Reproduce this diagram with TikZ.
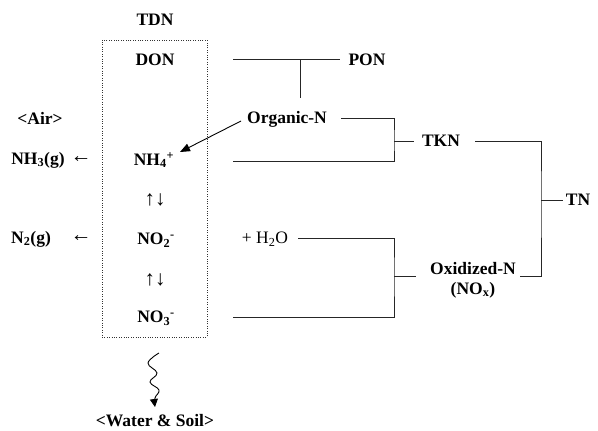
\documentclass[tikz,border=0pt]{standalone}
\usepackage{fontspec}
\setmainfont{Liberation Serif}
\usetikzlibrary{arrows.meta}
\begin{document}
\begin{tikzpicture}[x=1pt,y=-1pt,
  lbl/.style={font=\fontsize{17.5}{20}\selectfont\bfseries, inner sep=2pt},
  rlbl/.style={font=\fontsize{17.5}{20}\selectfont, inner sep=2pt},
  arr/.style={font=\fontsize{21}{22}\selectfont, inner sep=1pt},
  conn/.style={line width=0.7pt, draw=black!85},
  tdnbox/.style={draw=black!80, line width=0.7pt, dash pattern=on 1pt off 1.4pt, inner sep=0pt, minimum width=105pt, minimum height=297pt}]
\useasboundingbox (0,0) rectangle (598,431);
% box
\node[tdnbox] (box) at (154.5,188.5) {};
% labels
\node[lbl] (tdn) at (155,20) {TDN};
\node[lbl] (don) at (155,60) {DON};
\node[lbl] (pon) at (367,60) {PON};
\node[lbl] (org) at (287,119) {Organic-N};
\node[lbl] (air) at (40,118) {<Air>};
\node[lbl] (nh3) at (38,160) {NH\textsubscript{3}(g)};
\node[arr] (a1) at (81,160) {←};
\node[lbl] (nh4) at (154,160) {NH\textsubscript{4}\textsuperscript{+}};
\node[arr] (ud1) at (155,200) {↑↓};
\node[lbl] (n2) at (31,239) {N\textsubscript{2}(g)};
\node[arr] (a2) at (81,239) {←};
\node[lbl] (no2) at (156,240) {NO\textsubscript{2}\textsuperscript{-}};
\node[rlbl] (h2o) at (265,239) {+ H\textsubscript{2}O};
\node[arr] (ud2) at (155,280) {↑↓};
\node[lbl] (no3) at (156,318) {NO\textsubscript{3}\textsuperscript{-}};
\node[lbl] (ws) at (155,421) {<Water \& Soil>};
\node[lbl] (tkn) at (441,141) {TKN};
\node[lbl, align=center] (oxn) at (473,280) {Oxidized-N\\(NO\textsubscript{x})};
\node[lbl] (tn) at (578,200) {TN};
% coordinates
\coordinate (donR) at (233,59);
\coordinate (ponL) at (340,59);
\coordinate (ponJ) at (300,59);
\coordinate (orgT) at (300,98);
\coordinate (orgR) at (341,118);
\coordinate (orgL) at (241,121);
\coordinate (nh4T) at (180,152);
\coordinate (nh4R) at (233,161);
\coordinate (tknJ) at (394,141);
\coordinate (tknL) at (414,141);
\coordinate (tknR) at (475,141);
\coordinate (h2oR) at (298,238);
\coordinate (no3R) at (233,317);
\coordinate (oxJ) at (394,276);
\coordinate (oxL) at (416,276);
\coordinate (oxR) at (520,276);
\coordinate (tnJ) at (541,200);
\coordinate (tnL) at (563,200);
\coordinate (wsT) at (155,407);
% connectors
\draw[conn] (donR) -- (ponL);
\draw[conn] (ponJ) -- (orgT);
\draw[conn] (orgR) -| (tknJ) |- (nh4R);
\draw[conn] (tknJ) -- (tknL);
\draw[conn] (h2oR) -| (oxJ) |- (no3R);
\draw[conn] (oxJ) -- (oxL);
\draw[conn] (tknR) -| (tnJ) |- (oxR);
\draw[conn] (tnJ) -- (tnL);
\draw[line width=0.9pt, -{Triangle[length=10pt,width=8pt]}] (orgL) -- (nh4T);
\draw[line width=0.9pt, -{Triangle[length=8pt,width=8pt]}]
  plot[smooth, tension=0.7] coordinates {(159,353) (148,363) (157,373) (150,382) (159,390) (155,398) (wsT)};
\end{tikzpicture}
\end{document}
